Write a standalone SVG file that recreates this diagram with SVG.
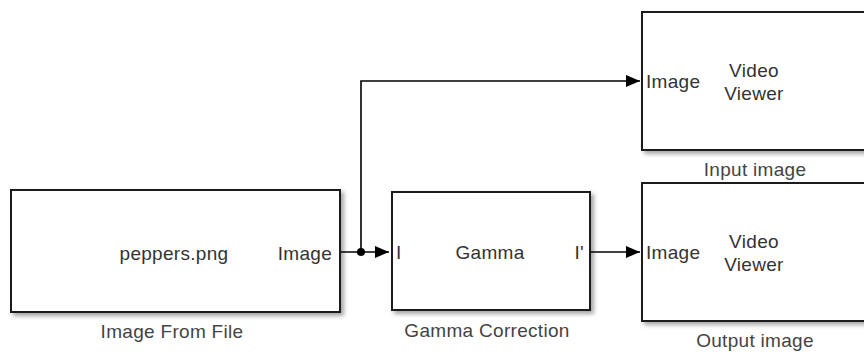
<svg xmlns="http://www.w3.org/2000/svg" width="864" height="352" viewBox="0 0 864 352">
<defs>
<filter id="sh" x="-5%" y="-5%" width="115%" height="120%">
<feDropShadow dx="3" dy="3" stdDeviation="2" flood-color="#000" flood-opacity="0.35"/>
</filter>
<marker id="ah" viewBox="0 0 14 12" refX="14" refY="6" markerWidth="14" markerHeight="12" markerUnits="userSpaceOnUse" orient="auto">
<path d="M0,0 L14,6 L0,12 Z" fill="#000"/>
</marker>
</defs>
<style>
.blk{fill:#fff;stroke:#1a1a1a;stroke-width:2;filter:url(#sh)}
.t{font-family:"Liberation Sans",Arial,sans-serif;font-size:19px;letter-spacing:0.3px;fill:#333}
.lbl{font-family:"Liberation Sans",Arial,sans-serif;font-size:19px;letter-spacing:0.3px;fill:#444}
.w{fill:none;stroke:#000;stroke-width:1.6}
</style>
<rect width="864" height="352" fill="#fff"/>
<g id="image-from-file">
<rect class="blk" x="11" y="190" width="329" height="122"/>
<text class="t" x="174" y="260" text-anchor="middle">peppers.png</text>
<text class="t" x="332" y="260" text-anchor="end">Image</text>
<text class="lbl" x="172" y="338" text-anchor="middle">Image From File</text>
</g>
<g id="gamma-correction">
<rect class="blk" x="392" y="192" width="198" height="118"/>
<text class="t" x="396" y="259">I</text>
<text class="t" x="490" y="259" text-anchor="middle">Gamma</text>
<text class="t" x="584" y="259" text-anchor="end">I'</text>
<text class="lbl" x="487" y="337" text-anchor="middle">Gamma Correction</text>
</g>
<g id="input-image">
<rect class="blk" x="642" y="12" width="240" height="138"/>
<text class="t" x="646" y="88">Image</text>
<text class="t" x="754" y="77" text-anchor="middle">Video</text>
<text class="t" x="754" y="100" text-anchor="middle">Viewer</text>
<text class="lbl" x="755" y="176" text-anchor="middle">Input image</text>
</g>
<g id="output-image">
<rect class="blk" x="642" y="183" width="240" height="138"/>
<text class="t" x="646" y="259">Image</text>
<text class="t" x="754" y="248" text-anchor="middle">Video</text>
<text class="t" x="754" y="271" text-anchor="middle">Viewer</text>
<text class="lbl" x="755" y="347" text-anchor="middle">Output image</text>
</g>
<g id="connectors">
<path class="w" d="M341,252 H389" marker-end="url(#ah)"/>
<path class="w" d="M361,252 V81 H640" marker-end="url(#ah)"/>
<path class="w" d="M591,252 H640" marker-end="url(#ah)"/>
<circle cx="361" cy="252" r="4" fill="#000"/>
</g>
</svg>
